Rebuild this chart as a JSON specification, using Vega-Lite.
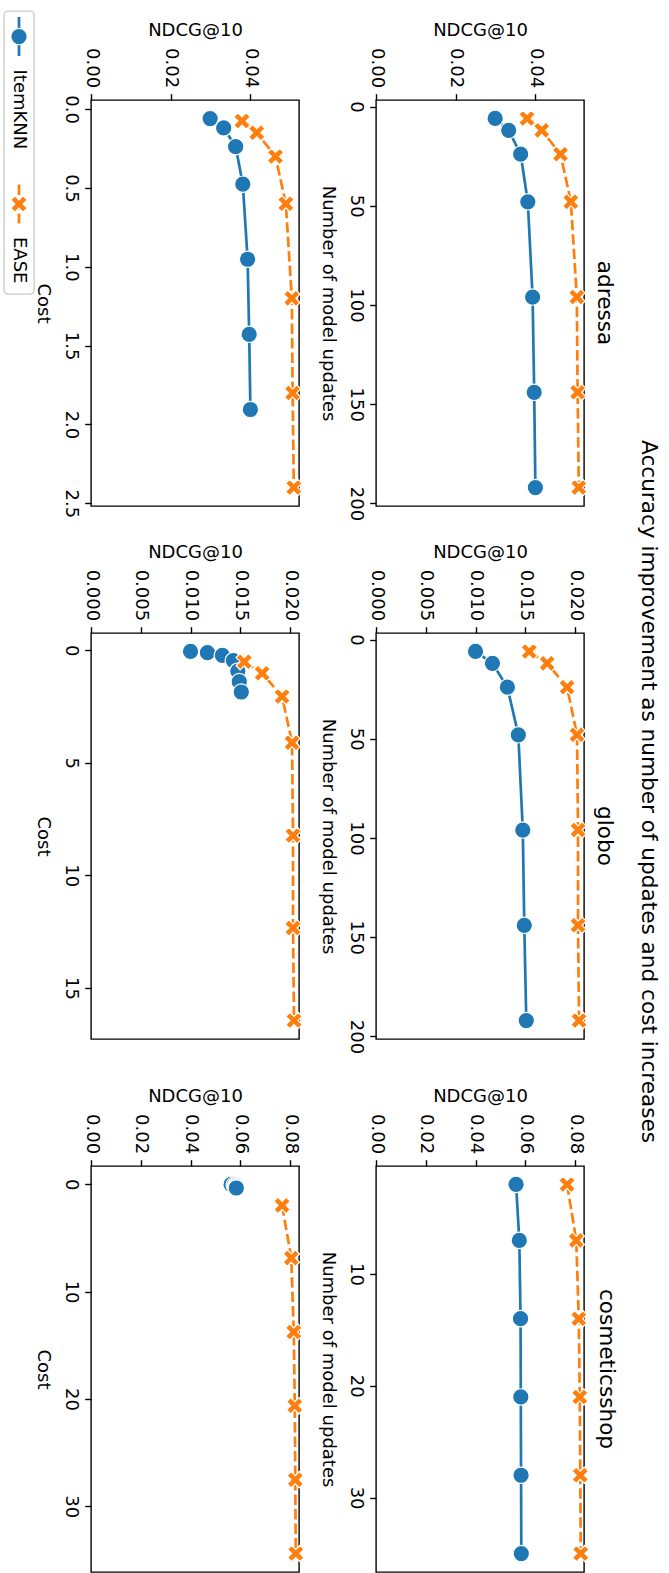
{
  "$schema": "https://vega.github.io/schema/vega-lite/v6.json",
  "padding": {"left": 3, "top": 10, "right": 4, "bottom": 0},
  "background": "white",
  "config": {
    "font": "DejaVu Sans",
    "view": {"stroke": "black", "strokeWidth": 1.4},
    "axis": {"grid": false, "domain": false, "tickColor": "black", "tickWidth": 1.4, "tickSize": 6.3,
      "labelFont": "DejaVu Sans", "labelFontSize": 18, "labelColor": "black", "labelFlush": false, "labelOverlap": false,
      "titleFont": "DejaVu Sans", "titleFontSize": 18, "titleFontWeight": "normal", "titleColor": "black"},
    "axisX": {"orient": "top", "labelAngle": 90, "labelAlign": "right", "labelBaseline": "middle", "labelPadding": 6, "titlePadding": 8},
    "axisY": {"orient": "left", "labelAngle": 90, "labelAlign": "center", "labelBaseline": "top", "labelPadding": 5, "titleAngle": 90, "titleBaseline": "top", "titlePadding": 10},
    "title": {"font": "DejaVu Sans", "fontSize": 21.6, "fontWeight": "normal", "color": "black"}
  },
  "title": {"text": "Accuracy improvement as number of updates and cost increases", "orient": "right", "anchor": "middle", "offset": 20},
  "datasets": {
    "models": [{"model": "ItemKNN"}, {"model": "EASE"}],
    "empty": [],
    "runs": [
      {"dataset": "adressa", "model": "ItemKNN", "updates": 6, "cost": 0.0595, "ndcg": 0.0299},
      {"dataset": "adressa", "model": "ItemKNN", "updates": 12, "cost": 0.119, "ndcg": 0.0333},
      {"dataset": "adressa", "model": "ItemKNN", "updates": 24, "cost": 0.238, "ndcg": 0.0363},
      {"dataset": "adressa", "model": "ItemKNN", "updates": 48, "cost": 0.476, "ndcg": 0.0381},
      {"dataset": "adressa", "model": "ItemKNN", "updates": 96, "cost": 0.952, "ndcg": 0.0393},
      {"dataset": "adressa", "model": "ItemKNN", "updates": 144, "cost": 1.428, "ndcg": 0.0397},
      {"dataset": "adressa", "model": "ItemKNN", "updates": 192, "cost": 1.905, "ndcg": 0.0400},
      {"dataset": "adressa", "model": "EASE", "updates": 6, "cost": 0.075, "ndcg": 0.0379},
      {"dataset": "adressa", "model": "EASE", "updates": 12, "cost": 0.15, "ndcg": 0.0416},
      {"dataset": "adressa", "model": "EASE", "updates": 24, "cost": 0.30, "ndcg": 0.0463},
      {"dataset": "adressa", "model": "EASE", "updates": 48, "cost": 0.60, "ndcg": 0.0489},
      {"dataset": "adressa", "model": "EASE", "updates": 96, "cost": 1.20, "ndcg": 0.0504},
      {"dataset": "adressa", "model": "EASE", "updates": 144, "cost": 1.80, "ndcg": 0.0506},
      {"dataset": "adressa", "model": "EASE", "updates": 192, "cost": 2.40, "ndcg": 0.0509},
      {"dataset": "globo", "model": "ItemKNN", "updates": 6, "cost": 0.058, "ndcg": 0.0100},
      {"dataset": "globo", "model": "ItemKNN", "updates": 12, "cost": 0.116, "ndcg": 0.0117},
      {"dataset": "globo", "model": "ItemKNN", "updates": 24, "cost": 0.233, "ndcg": 0.0132},
      {"dataset": "globo", "model": "ItemKNN", "updates": 48, "cost": 0.466, "ndcg": 0.0143},
      {"dataset": "globo", "model": "ItemKNN", "updates": 96, "cost": 0.93, "ndcg": 0.01475},
      {"dataset": "globo", "model": "ItemKNN", "updates": 144, "cost": 1.40, "ndcg": 0.0149},
      {"dataset": "globo", "model": "ItemKNN", "updates": 192, "cost": 1.86, "ndcg": 0.0151},
      {"dataset": "globo", "model": "EASE", "updates": 6, "cost": 0.514, "ndcg": 0.0154},
      {"dataset": "globo", "model": "EASE", "updates": 12, "cost": 1.03, "ndcg": 0.0172},
      {"dataset": "globo", "model": "EASE", "updates": 24, "cost": 2.06, "ndcg": 0.0192},
      {"dataset": "globo", "model": "EASE", "updates": 48, "cost": 4.11, "ndcg": 0.0202},
      {"dataset": "globo", "model": "EASE", "updates": 96, "cost": 8.23, "ndcg": 0.0203},
      {"dataset": "globo", "model": "EASE", "updates": 144, "cost": 12.34, "ndcg": 0.0203},
      {"dataset": "globo", "model": "EASE", "updates": 192, "cost": 16.45, "ndcg": 0.0204},
      {"dataset": "cosmeticsshop", "model": "ItemKNN", "updates": 2, "cost": 0.02, "ndcg": 0.0563},
      {"dataset": "cosmeticsshop", "model": "ItemKNN", "updates": 7, "cost": 0.07, "ndcg": 0.0576},
      {"dataset": "cosmeticsshop", "model": "ItemKNN", "updates": 14, "cost": 0.14, "ndcg": 0.0581},
      {"dataset": "cosmeticsshop", "model": "ItemKNN", "updates": 21, "cost": 0.21, "ndcg": 0.0582},
      {"dataset": "cosmeticsshop", "model": "ItemKNN", "updates": 28, "cost": 0.28, "ndcg": 0.0583},
      {"dataset": "cosmeticsshop", "model": "ItemKNN", "updates": 35, "cost": 0.35, "ndcg": 0.0584},
      {"dataset": "cosmeticsshop", "model": "EASE", "updates": 2, "cost": 1.97, "ndcg": 0.0768},
      {"dataset": "cosmeticsshop", "model": "EASE", "updates": 7, "cost": 6.88, "ndcg": 0.0805},
      {"dataset": "cosmeticsshop", "model": "EASE", "updates": 14, "cost": 13.76, "ndcg": 0.0815},
      {"dataset": "cosmeticsshop", "model": "EASE", "updates": 21, "cost": 20.64, "ndcg": 0.0819},
      {"dataset": "cosmeticsshop", "model": "EASE", "updates": 28, "cost": 27.52, "ndcg": 0.0821},
      {"dataset": "cosmeticsshop", "model": "EASE", "updates": 35, "cost": 34.4, "ndcg": 0.0823}
    ]
  },
  "spacing": -3,
  "hconcat": [
    {
      "width": 30, "height": 283,
      "view": {"stroke": "#cccccc", "strokeWidth": 1.4, "cornerRadius": 4},
      "data": {"name": "models"},
      "encoding": {
        "y": {"field": "model", "type": "nominal", "scale": {"type": "point", "domain": ["ItemKNN", "EASE"], "padding": 0.345, "align": 0.221}, "axis": null},
        "color": {"field": "model", "type": "nominal", "scale": {"domain": ["ItemKNN", "EASE"], "range": ["#1f77b4", "#ff7f0e"]}, "legend": null}
      },
      "layer": [
        {"mark": {"type": "point", "shape": "stroke", "angle": 90, "size": 1521, "strokeWidth": 2.7, "filled": false, "opacity": 1},
         "encoding": {"strokeDash": {"field": "model", "type": "nominal", "scale": {"domain": ["ItemKNN", "EASE"], "range": [[1, 0], [10.5, 4]]}, "legend": null}}},
        {"mark": {"type": "point", "filled": true, "opacity": 1, "stroke": "white", "strokeWidth": 1.2, "size": 270},
         "encoding": {"shape": {"field": "model", "type": "nominal", "scale": {"domain": ["ItemKNN", "EASE"], "range": ["circle", "M -0.5,-1 L 0,-0.5 L 0.5,-1 L 1,-0.5 L 0.5,0 L 1,0.5 L 0.5,1 L 0,0.5 L -0.5,1 L -1,0.5 L -0.5,0 L -1,-0.5 Z"]}, "legend": null}}},
        {"mark": {"type": "text", "angle": 90, "align": "left", "baseline": "middle", "dx": 33, "fontSize": 18, "font": "DejaVu Sans"},
         "encoding": {"text": {"field": "model"}, "color": {"value": "black"}}}
      ]
    },
    {
      "bounds": "flush",
      "spacing": 88,
      "vconcat": [
        {
          "width": 10, "height": 1,
          "view": {"stroke": null},
          "data": {"name": "empty"},
          "mark": {"type": "point", "opacity": 0}
        },
        {
          "columns": 2,
          "spacing": {"row": 127, "column": 77},
          "bounds": "flush",
          "data": {"name": "runs"},
          "concat": [
            {
              "width": 208, "height": 406,
              "transform": [{"filter": "datum.dataset === 'adressa'"}],
              "encoding": {
                "x": {"field": "ndcg", "type": "quantitative", "scale": {"domain": [0, 0.0522], "nice": false, "zero": false}, "axis": {"title": "NDCG@10", "values": [0, 0.02, 0.04], "format": ".2f"}},
                "y": {"field": "cost", "type": "quantitative", "scale": {"domain": [-0.058, 2.517], "nice": false, "zero": false, "reverse": true}, "axis": {"title": "Cost", "values": [0, 0.5, 1, 1.5, 2, 2.5], "format": ".1f"}},
                "color": {"field": "model", "type": "nominal", "scale": {"domain": ["ItemKNN", "EASE"], "range": ["#1f77b4", "#ff7f0e"]}, "legend": null}
              },
              "layer": [
                {"mark": {"type": "line", "strokeWidth": 2.7}, "encoding": {"order": {"field": "cost"}, "strokeDash": {"field": "model", "type": "nominal", "scale": {"domain": ["ItemKNN", "EASE"], "range": [[1, 0], [10.5, 4]]}, "legend": null}}},
                {"mark": {"type": "point", "filled": true, "opacity": 1, "stroke": "white", "strokeWidth": 1.2, "size": 270}, "encoding": {"shape": {"field": "model", "type": "nominal", "scale": {"domain": ["ItemKNN", "EASE"], "range": ["circle", "M -0.5,-1 L 0,-0.5 L 0.5,-1 L 1,-0.5 L 0.5,0 L 1,0.5 L 0.5,1 L 0,0.5 L -0.5,1 L -1,0.5 L -0.5,0 L -1,-0.5 Z"]}, "legend": null}}}
              ]
            },
            {
              "width": 208, "height": 406,
              "title": {"text": "adressa", "orient": "right", "anchor": "middle", "offset": 4},
              "transform": [{"filter": "datum.dataset === 'adressa'"}],
              "encoding": {
                "x": {"field": "ndcg", "type": "quantitative", "scale": {"domain": [0, 0.0522], "nice": false, "zero": false}, "axis": {"title": "NDCG@10", "values": [0, 0.02, 0.04], "format": ".2f"}},
                "y": {"field": "updates", "type": "quantitative", "scale": {"domain": [-3.3, 201.3], "nice": false, "zero": false, "reverse": true}, "axis": {"title": "Number of model updates", "values": [0, 50, 100, 150, 200], "format": "d"}},
                "color": {"field": "model", "type": "nominal", "scale": {"domain": ["ItemKNN", "EASE"], "range": ["#1f77b4", "#ff7f0e"]}, "legend": null}
              },
              "layer": [
                {"mark": {"type": "line", "strokeWidth": 2.7}, "encoding": {"order": {"field": "updates"}, "strokeDash": {"field": "model", "type": "nominal", "scale": {"domain": ["ItemKNN", "EASE"], "range": [[1, 0], [10.5, 4]]}, "legend": null}}},
                {"mark": {"type": "point", "filled": true, "opacity": 1, "stroke": "white", "strokeWidth": 1.2, "size": 270}, "encoding": {"shape": {"field": "model", "type": "nominal", "scale": {"domain": ["ItemKNN", "EASE"], "range": ["circle", "M -0.5,-1 L 0,-0.5 L 0.5,-1 L 1,-0.5 L 0.5,0 L 1,0.5 L 0.5,1 L 0,0.5 L -0.5,1 L -1,0.5 L -0.5,0 L -1,-0.5 Z"]}, "legend": null}}}
              ]
            },
            {
              "width": 208, "height": 406,
              "transform": [{"filter": "datum.dataset === 'globo'"}],
              "encoding": {
                "x": {"field": "ndcg", "type": "quantitative", "scale": {"domain": [0, 0.0209], "nice": false, "zero": false}, "axis": {"title": "NDCG@10", "values": [0, 0.005, 0.01, 0.015, 0.02], "format": ".3f"}},
                "y": {"field": "cost", "type": "quantitative", "scale": {"domain": [-0.76, 17.27], "nice": false, "zero": false, "reverse": true}, "axis": {"title": "Cost", "values": [0, 5, 10, 15], "format": "d"}},
                "color": {"field": "model", "type": "nominal", "scale": {"domain": ["ItemKNN", "EASE"], "range": ["#1f77b4", "#ff7f0e"]}, "legend": null}
              },
              "layer": [
                {"mark": {"type": "line", "strokeWidth": 2.7}, "encoding": {"order": {"field": "cost"}, "strokeDash": {"field": "model", "type": "nominal", "scale": {"domain": ["ItemKNN", "EASE"], "range": [[1, 0], [10.5, 4]]}, "legend": null}}},
                {"mark": {"type": "point", "filled": true, "opacity": 1, "stroke": "white", "strokeWidth": 1.2, "size": 270}, "encoding": {"shape": {"field": "model", "type": "nominal", "scale": {"domain": ["ItemKNN", "EASE"], "range": ["circle", "M -0.5,-1 L 0,-0.5 L 0.5,-1 L 1,-0.5 L 0.5,0 L 1,0.5 L 0.5,1 L 0,0.5 L -0.5,1 L -1,0.5 L -0.5,0 L -1,-0.5 Z"]}, "legend": null}}}
              ]
            },
            {
              "width": 208, "height": 406,
              "title": {"text": "globo", "orient": "right", "anchor": "middle", "offset": 4},
              "transform": [{"filter": "datum.dataset === 'globo'"}],
              "encoding": {
                "x": {"field": "ndcg", "type": "quantitative", "scale": {"domain": [0, 0.0209], "nice": false, "zero": false}, "axis": {"title": "NDCG@10", "values": [0, 0.005, 0.01, 0.015, 0.02], "format": ".3f"}},
                "y": {"field": "updates", "type": "quantitative", "scale": {"domain": [-3.3, 201.3], "nice": false, "zero": false, "reverse": true}, "axis": {"title": "Number of model updates", "values": [0, 50, 100, 150, 200], "format": "d"}},
                "color": {"field": "model", "type": "nominal", "scale": {"domain": ["ItemKNN", "EASE"], "range": ["#1f77b4", "#ff7f0e"]}, "legend": null}
              },
              "layer": [
                {"mark": {"type": "line", "strokeWidth": 2.7}, "encoding": {"order": {"field": "updates"}, "strokeDash": {"field": "model", "type": "nominal", "scale": {"domain": ["ItemKNN", "EASE"], "range": [[1, 0], [10.5, 4]]}, "legend": null}}},
                {"mark": {"type": "point", "filled": true, "opacity": 1, "stroke": "white", "strokeWidth": 1.2, "size": 270}, "encoding": {"shape": {"field": "model", "type": "nominal", "scale": {"domain": ["ItemKNN", "EASE"], "range": ["circle", "M -0.5,-1 L 0,-0.5 L 0.5,-1 L 1,-0.5 L 0.5,0 L 1,0.5 L 0.5,1 L 0,0.5 L -0.5,1 L -1,0.5 L -0.5,0 L -1,-0.5 Z"]}, "legend": null}}}
              ]
            },
            {
              "width": 208, "height": 406,
              "transform": [{"filter": "datum.dataset === 'cosmeticsshop'"}],
              "encoding": {
                "x": {"field": "ndcg", "type": "quantitative", "scale": {"domain": [0, 0.0836], "nice": false, "zero": false}, "axis": {"title": "NDCG@10", "values": [0, 0.02, 0.04, 0.06, 0.08], "format": ".2f"}},
                "y": {"field": "cost", "type": "quantitative", "scale": {"domain": [-1.70, 36.12], "nice": false, "zero": false, "reverse": true}, "axis": {"title": "Cost", "values": [0, 10, 20, 30], "format": "d"}},
                "color": {"field": "model", "type": "nominal", "scale": {"domain": ["ItemKNN", "EASE"], "range": ["#1f77b4", "#ff7f0e"]}, "legend": null}
              },
              "layer": [
                {"mark": {"type": "line", "strokeWidth": 2.7}, "encoding": {"order": {"field": "cost"}, "strokeDash": {"field": "model", "type": "nominal", "scale": {"domain": ["ItemKNN", "EASE"], "range": [[1, 0], [10.5, 4]]}, "legend": null}}},
                {"mark": {"type": "point", "filled": true, "opacity": 1, "stroke": "white", "strokeWidth": 1.2, "size": 270}, "encoding": {"shape": {"field": "model", "type": "nominal", "scale": {"domain": ["ItemKNN", "EASE"], "range": ["circle", "M -0.5,-1 L 0,-0.5 L 0.5,-1 L 1,-0.5 L 0.5,0 L 1,0.5 L 0.5,1 L 0,0.5 L -0.5,1 L -1,0.5 L -0.5,0 L -1,-0.5 Z"]}, "legend": null}}}
              ]
            },
            {
              "width": 208, "height": 406,
              "title": {"text": "cosmeticsshop", "orient": "right", "anchor": "middle", "offset": 4},
              "transform": [{"filter": "datum.dataset === 'cosmeticsshop'"}],
              "encoding": {
                "x": {"field": "ndcg", "type": "quantitative", "scale": {"domain": [0, 0.0836], "nice": false, "zero": false}, "axis": {"title": "NDCG@10", "values": [0, 0.02, 0.04, 0.06, 0.08], "format": ".2f"}},
                "y": {"field": "updates", "type": "quantitative", "scale": {"domain": [0.35, 36.65], "nice": false, "zero": false, "reverse": true}, "axis": {"title": "Number of model updates", "values": [10, 20, 30], "format": "d"}},
                "color": {"field": "model", "type": "nominal", "scale": {"domain": ["ItemKNN", "EASE"], "range": ["#1f77b4", "#ff7f0e"]}, "legend": null}
              },
              "layer": [
                {"mark": {"type": "line", "strokeWidth": 2.7}, "encoding": {"order": {"field": "updates"}, "strokeDash": {"field": "model", "type": "nominal", "scale": {"domain": ["ItemKNN", "EASE"], "range": [[1, 0], [10.5, 4]]}, "legend": null}}},
                {"mark": {"type": "point", "filled": true, "opacity": 1, "stroke": "white", "strokeWidth": 1.2, "size": 270}, "encoding": {"shape": {"field": "model", "type": "nominal", "scale": {"domain": ["ItemKNN", "EASE"], "range": ["circle", "M -0.5,-1 L 0,-0.5 L 0.5,-1 L 1,-0.5 L 0.5,0 L 1,0.5 L 0.5,1 L 0,0.5 L -0.5,1 L -1,0.5 L -0.5,0 L -1,-0.5 Z"]}, "legend": null}}}
              ]
            }
          ]
        }
      ]
    }
  ]
}
